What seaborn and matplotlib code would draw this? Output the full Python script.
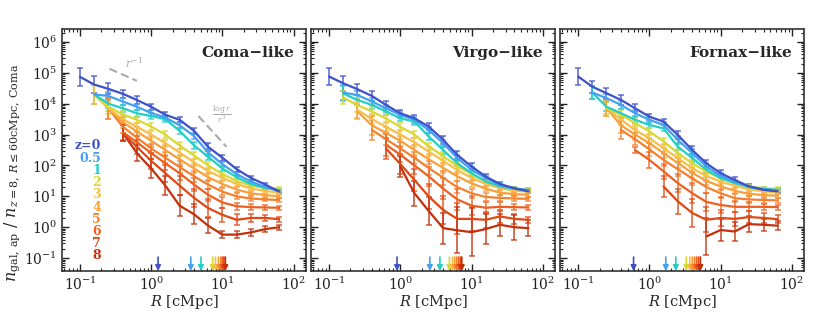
"""Galaxy aperture number density profiles for Coma/Virgo/Fornax-like protoclusters."""

import matplotlib
matplotlib.use("Agg")
import matplotlib.pyplot as plt
import numpy as np
import pandas as pd
import seaborn as sns

N = np.nan

R_CMPC = [0.1, 0.158, 0.25, 0.4, 0.63, 1.0, 1.58, 2.5, 4.0, 6.3, 10.0, 15.8, 25.0, 40.0, 63.0]
Z_LABELS = ["z=0", "0.5", "1", "2", "3", "4", "5", "6", "7", "8"]
COLORS = ["#3f51c8", "#44a0f0", "#22cfc6", "#d8d832", "#f7bf48",
          "#f7a03a", "#f4802f", "#ec6020", "#de4814", "#c3300b"]
PANEL_NAMES = ["Coma\u2212like", "Virgo\u2212like", "Fornax\u2212like"]
X_TICKS = [0.1, 1, 10, 100]
Y_TICKS = [1e-1, 1e0, 1e1, 1e2, 1e3, 1e4, 1e5, 1e6]

# log10 of normalised density, one row per redshift
COMA_LOGN = [
    [4.87, 4.62, 4.48, 4.32, 4.12, 3.90, 3.64, 3.48, 3.12, 2.60, 2.25, 1.88, 1.60, 1.38, 1.15],
    [N, 4.30, 4.25, 4.07, 3.90, 3.70, 3.55, 3.30, 2.95, 2.42, 2.04, 1.72, 1.48, 1.30, 1.17],
    [N, 4.30, 4.00, 3.85, 3.69, 3.60, 3.50, 3.12, 2.65, 2.28, 1.90, 1.62, 1.40, 1.27, 1.20],
    [N, 4.30, 3.90, 3.65, 3.48, 3.26, 3.00, 2.65, 2.32, 2.00, 1.72, 1.50, 1.35, 1.27, 1.24],
    [N, 4.30, 3.85, 3.50, 3.25, 3.00, 2.72, 2.42, 2.10, 1.82, 1.60, 1.40, 1.26, 1.17, 1.12],
    [N, N, 3.85, 3.40, 3.10, 2.80, 2.50, 2.20, 1.90, 1.62, 1.40, 1.22, 1.10, 1.04, 1.00],
    [N, N, 3.85, 3.25, 2.90, 2.55, 2.25, 1.95, 1.65, 1.38, 1.15, 1.00, 0.93, 0.90, 0.88],
    [N, N, N, 3.08, 2.75, 2.40, 2.07, 1.75, 1.38, 1.05, 0.80, 0.68, 0.65, 0.64, 0.63],
    [N, N, N, 3.05, 2.60, 2.15, 1.75, 1.35, 0.95, 0.62, 0.40, 0.24, 0.30, 0.30, 0.26],
    [N, N, N, 3.05, 2.40, 1.90, 1.35, 0.70, 0.42, 0.05, -0.24, -0.24, -0.17, -0.06, 0.00],
]
COMA_DEX = [
    [0.30, 0.28, 0.18, 0.13, 0.12, 0.10, 0.08, 0.08, 0.10, 0.12, 0.10, 0.08, 0.07, 0.05, 0.05],
    [N, 0.30, 0.14, 0.12, 0.10, 0.10, 0.08, 0.08, 0.10, 0.10, 0.08, 0.07, 0.06, 0.05, 0.05],
    [N, 0.30, 0.14, 0.12, 0.12, 0.10, 0.10, 0.10, 0.12, 0.10, 0.08, 0.06, 0.05, 0.05, 0.05],
    [N, 0.30, 0.15, 0.12, 0.12, 0.10, 0.12, 0.12, 0.10, 0.10, 0.08, 0.06, 0.05, 0.05, 0.05],
    [N, 0.30, 0.18, 0.14, 0.14, 0.12, 0.12, 0.12, 0.12, 0.10, 0.08, 0.06, 0.05, 0.05, 0.05],
    [N, N, 0.35, 0.18, 0.16, 0.14, 0.15, 0.15, 0.15, 0.12, 0.10, 0.08, 0.06, 0.05, 0.05],
    [N, N, 0.35, 0.20, 0.18, 0.16, 0.18, 0.18, 0.18, 0.15, 0.12, 0.10, 0.08, 0.06, 0.06],
    [N, N, N, 0.25, 0.20, 0.20, 0.22, 0.22, 0.22, 0.20, 0.18, 0.12, 0.10, 0.08, 0.07],
    [N, N, N, 0.25, 0.22, 0.25, 0.28, 0.30, 0.30, 0.28, 0.22, 0.18, 0.12, 0.10, 0.08],
    [N, N, N, 0.25, 0.25, 0.32, 0.32, 0.35, 0.32, 0.25, 0.12, 0.12, 0.10, 0.10, 0.08],
]

VIRGO_LOGN = [
    [4.88, 4.66, 4.47, 4.25, 3.96, 3.69, 3.53, 3.26, 2.83, 2.34, 1.97, 1.64, 1.40, 1.26, 1.16],
    [N, 4.36, 4.28, 4.07, 3.85, 3.64, 3.48, 3.15, 2.72, 2.24, 1.86, 1.59, 1.37, 1.26, 1.19],
    [N, 4.33, 4.12, 3.96, 3.75, 3.53, 3.42, 2.94, 2.50, 2.07, 1.75, 1.48, 1.32, 1.24, 1.21],
    [N, 4.20, 3.95, 3.75, 3.52, 3.25, 3.00, 2.62, 2.30, 1.98, 1.72, 1.48, 1.33, 1.25, 1.22],
    [N, N, 3.80, 3.50, 3.25, 3.00, 2.75, 2.45, 2.15, 1.85, 1.60, 1.40, 1.27, 1.18, 1.15],
    [N, N, 3.75, 3.30, 3.05, 2.80, 2.50, 2.20, 1.92, 1.65, 1.42, 1.25, 1.12, 1.07, 1.05],
    [N, N, N, 3.15, 2.85, 2.55, 2.25, 1.92, 1.60, 1.30, 1.10, 0.98, 0.95, 0.93, 0.92],
    [N, N, N, N, 2.67, 2.35, 2.00, 1.65, 1.25, 0.90, 0.70, 0.63, 0.66, 0.65, 0.64],
    [N, N, N, N, 2.55, 2.05, 1.53, 1.00, 0.56, 0.27, 0.27, 0.24, 0.35, 0.27, 0.24],
    [N, N, N, N, N, 1.97, 1.10, 0.53, -0.03, -0.10, -0.16, -0.06, 0.08, 0.00, -0.03],
]
VIRGO_DEX = [
    [0.28, 0.25, 0.18, 0.15, 0.13, 0.12, 0.10, 0.10, 0.13, 0.12, 0.10, 0.08, 0.06, 0.05, 0.05],
    [N, 0.25, 0.14, 0.12, 0.12, 0.10, 0.10, 0.10, 0.12, 0.10, 0.08, 0.06, 0.05, 0.05, 0.05],
    [N, 0.25, 0.15, 0.13, 0.12, 0.10, 0.10, 0.12, 0.12, 0.10, 0.08, 0.06, 0.05, 0.05, 0.05],
    [N, 0.20, 0.22, 0.14, 0.13, 0.12, 0.12, 0.12, 0.12, 0.10, 0.08, 0.06, 0.05, 0.05, 0.05],
    [N, N, 0.25, 0.16, 0.15, 0.14, 0.14, 0.14, 0.14, 0.12, 0.10, 0.07, 0.06, 0.05, 0.05],
    [N, N, 0.25, 0.30, 0.18, 0.16, 0.16, 0.16, 0.16, 0.14, 0.12, 0.08, 0.07, 0.06, 0.06],
    [N, N, N, 0.32, 0.20, 0.20, 0.20, 0.22, 0.22, 0.20, 0.15, 0.12, 0.10, 0.08, 0.07],
    [N, N, N, N, 0.35, 0.25, 0.28, 0.30, 0.35, 0.35, 0.30, 0.18, 0.15, 0.10, 0.08],
    [N, N, N, N, 0.35, 0.32, 0.35, 0.40, 0.45, 0.50, 0.40, 0.25, 0.20, 0.15, 0.10],
    [N, N, N, N, N, 0.35, 0.40, 0.45, 0.50, 0.75, 0.78, 0.48, 0.35, 0.40, 0.25],
]

FORNAX_LOGN = [
    [4.88, 4.55, 4.34, 4.12, 3.85, 3.58, 3.42, 2.99, 2.50, 2.07, 1.75, 1.53, 1.32, 1.21, 1.16],
    [N, 4.36, 4.18, 3.96, 3.69, 3.48, 3.31, 2.83, 2.40, 1.97, 1.66, 1.48, 1.32, 1.23, 1.19],
    [N, 4.36, 3.90, 3.69, 3.48, 3.31, 3.20, 2.61, 2.24, 1.86, 1.59, 1.43, 1.30, 1.24, 1.21],
    [N, N, 3.85, 3.64, 3.37, 3.10, 2.78, 2.40, 2.07, 1.80, 1.59, 1.43, 1.32, 1.26, 1.24],
    [N, N, 3.85, 3.48, 3.15, 2.88, 2.56, 2.24, 1.91, 1.66, 1.48, 1.34, 1.23, 1.16, 1.12],
    [N, N, 3.85, 3.30, 3.00, 2.72, 2.40, 2.08, 1.76, 1.50, 1.32, 1.18, 1.08, 1.04, 1.02],
    [N, N, N, 3.15, 2.85, 2.52, 2.18, 1.88, 1.58, 1.30, 1.10, 0.94, 0.90, 0.88, 0.87],
    [N, N, N, N, 2.50, 2.18, 1.81, 1.43, 1.10, 0.82, 0.72, 0.66, 0.66, 0.66, 0.65],
    [N, N, N, N, N, N, 1.32, 0.84, 0.46, 0.24, 0.30, 0.27, 0.33, 0.30, 0.26],
    [N, N, N, N, N, N, N, N, N, -0.30, -0.09, -0.14, 0.10, 0.08, 0.05],
]
FORNAX_DEX = [
    [0.28, 0.20, 0.18, 0.15, 0.13, 0.10, 0.10, 0.12, 0.12, 0.12, 0.10, 0.10, 0.07, 0.05, 0.05],
    [N, 0.22, 0.14, 0.12, 0.12, 0.10, 0.10, 0.12, 0.12, 0.10, 0.08, 0.06, 0.05, 0.05, 0.05],
    [N, 0.22, 0.15, 0.13, 0.12, 0.10, 0.10, 0.12, 0.12, 0.10, 0.08, 0.06, 0.05, 0.05, 0.05],
    [N, N, 0.20, 0.14, 0.13, 0.12, 0.12, 0.12, 0.12, 0.10, 0.08, 0.06, 0.05, 0.05, 0.05],
    [N, N, 0.25, 0.16, 0.15, 0.14, 0.14, 0.14, 0.14, 0.12, 0.10, 0.07, 0.06, 0.05, 0.05],
    [N, N, 0.25, 0.25, 0.18, 0.16, 0.16, 0.16, 0.16, 0.14, 0.12, 0.08, 0.07, 0.06, 0.06],
    [N, N, N, 0.30, 0.20, 0.20, 0.20, 0.22, 0.22, 0.20, 0.15, 0.12, 0.10, 0.08, 0.07],
    [N, N, N, N, 0.10, 0.25, 0.25, 0.30, 0.32, 0.30, 0.25, 0.18, 0.15, 0.10, 0.08],
    [N, N, N, N, N, N, 0.35, 0.40, 0.45, 0.40, 0.25, 0.22, 0.20, 0.15, 0.12],
    [N, N, N, N, N, N, N, N, N, 0.60, 0.35, 0.30, 0.25, 0.20, 0.15],
]

# characteristic radius arrows (cMpc), one per redshift
COMA_ARROWS = [1.25, 3.6, 5.0, 7.3, 8.0, 8.8, 9.5, 10.0, 10.5, 11.0]
VIRGO_ARROWS = [0.9, 2.6, 3.6, 4.9, 5.4, 5.8, 6.2, 6.6, 7.0, 7.3]
FORNAX_ARROWS = [0.6, 1.7, 2.35, 3.3, 3.7, 4.0, 4.3, 4.6, 4.9, 5.2]

# guide slopes in the first panel
GUIDE_R1_X = [0.26, 0.63]
GUIDE_R1_Y = [1.35e5, 5.5e4]
GUIDE_LOG_X = [4.6, 11.4]
GUIDE_LOG_Y = [4.0e3, 4.0e2]

PANELS = [
    (COMA_LOGN, COMA_DEX, COMA_ARROWS),
    (VIRGO_LOGN, VIRGO_DEX, VIRGO_ARROWS),
    (FORNAX_LOGN, FORNAX_DEX, FORNAX_ARROWS),
]


def panel_frame(logn):
    rows = []
    for label, vals in zip(Z_LABELS, logn):
        for r, v in zip(R_CMPC, vals):
            if not np.isnan(v):
                rows.append({"R": r, "n": 10 ** v, "z": label})
    return pd.DataFrame(rows)


def draw_panel(ax, logn, dex, arrows, name):
    df = panel_frame(logn)
    # reversed hue order so z=0 ends up on top, like the original
    sns.lineplot(data=df, x="R", y="n", hue="z", hue_order=Z_LABELS[::-1],
                 palette=COLORS[::-1], estimator=None, errorbar=None,
                 linewidth=1.6, legend=False, ax=ax)

    r = np.array(R_CMPC)
    for vals, errs, c in zip(logn, dex, COLORS):
        v = np.array(vals)
        e = np.array(errs)
        n = 10 ** v
        lo = n - 10 ** (v - e)
        hi = 10 ** (v + e) - n
        ax.errorbar(r, n, yerr=[lo, hi], fmt="none", ecolor=c, elinewidth=1.3,
                    capsize=2.2, capthick=1.2, alpha=0.75, zorder=1.5)

    for x, c in zip(arrows, COLORS):
        ax.annotate("", xy=(x, 0.0), xytext=(x, 0.058),
                    xycoords=ax.get_xaxis_transform(),
                    arrowprops=dict(arrowstyle="-|>", color=c, lw=1.2,
                                    mutation_scale=8, shrinkA=0, shrinkB=0))

    ax.set_xscale("log")
    ax.set_yscale("log")
    ax.set_xticks(X_TICKS)
    ax.set_yticks(Y_TICKS)
    ax.set_xlim(0.056, 150)
    ax.set_ylim(0.038, 2.6e6)
    ax.set_xlabel(r"$R$ [cMpc]", fontsize=10.5, labelpad=0)
    ax.text(0.95, 0.90, name, transform=ax.transAxes, ha="right", va="center",
            fontsize=11, fontweight="bold")

    ax.tick_params(which="both", direction="in", top=True, right=True,
                   labelsize=10, colors="#222222")
    ax.tick_params(which="major", length=5, width=1.0)
    ax.tick_params(which="minor", length=2.5, width=0.8)
    for sp in ax.spines.values():
        sp.set_linewidth(1.2)
        sp.set_color("#333333")


def main():
    sns.set_theme(style="ticks")
    plt.rcParams["font.family"] = ["DejaVu Serif"]
    plt.rcParams["mathtext.fontset"] = "dejavuserif"

    fig, axes = plt.subplots(1, 3, figsize=(8.31, 3.27), dpi=100, sharey=True)
    fig.subplots_adjust(left=0.0746, right=0.968, bottom=0.171, top=0.911, wspace=0.02)

    for ax, (logn, dex, arrows), name in zip(axes, PANELS, PANEL_NAMES):
        draw_panel(ax, logn, dex, arrows, name)

    ax0 = axes[0]
    ax0.set_ylabel(r"$n_{\rm gal,\,ap}\ /\ n_{z=8,\,R\leq60{\rm cMpc},\,{\rm Coma}}$",
                   fontsize=11.5)
    ax0.yaxis.set_label_coords(-0.165, 0.405)
    for ax in axes[1:]:
        ax.set_ylabel("")
        ax.tick_params(labelleft=False)

    ax0.plot(GUIDE_R1_X, GUIDE_R1_Y, color="#aaaaaa", lw=1.5, ls=(0, (4, 2)))
    ax0.plot(GUIDE_LOG_X, GUIDE_LOG_Y, color="#aaaaaa", lw=1.5, ls=(0, (4, 2)))
    ax0.text(0.58, 2.2e5, r"$r^{-1}$", color="#aaaaaa", fontsize=8, ha="center", va="center")
    ax0.text(9.8, 4.4e3, r"$\frac{\log r}{r^3}$", color="#aaaaaa", fontsize=8,
             ha="center", va="center")

    for i, (lab, c) in enumerate(zip(Z_LABELS, COLORS)):
        ax0.text(0.16, 0.517 - i * 0.0505, lab, transform=ax0.transAxes, color=c,
                 ha="right", va="center", fontsize=9, fontweight="bold")

    fig.savefig("out.png", dpi=100)
    plt.close(fig)


if __name__ == "__main__":
    main()
